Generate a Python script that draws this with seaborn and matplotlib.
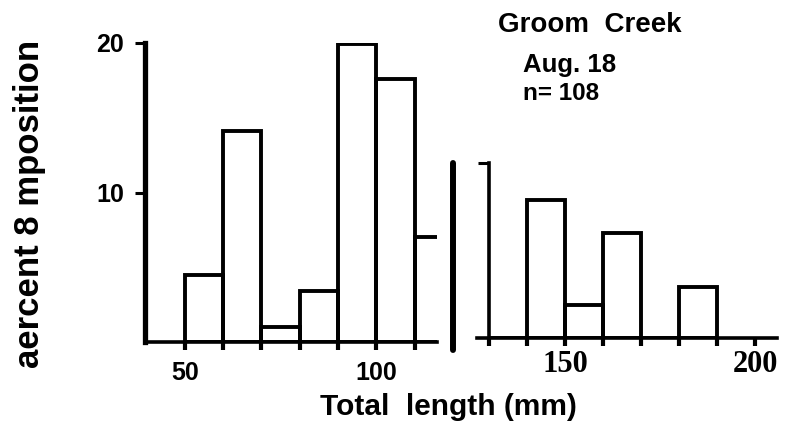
import numpy as np
import matplotlib
matplotlib.use("Agg")
import matplotlib.pyplot as plt
import seaborn as sns
from matplotlib.lines import Line2D

# --- data (percent of sample per 10 mm bin) ---
left_edges = [50, 60, 70, 80, 90, 100, 110, 120]
left_pct = [4.5, 14.1, 1.0, 3.4, 19.9, 17.6, 7.0]
right_edges = [130, 140, 150, 160, 170, 180, 190]
right_pct = [0.0, 9.2, 2.2, 7.0, 0.0, 3.4]

left_ticks = [50, 60, 70, 80, 90, 100, 110]
left_ticklabels = ["50", "", "", "", "", "100", ""]
right_ticks = [130, 140, 150, 160, 170, 180, 190, 200]
right_ticklabels = ["", "", "150", "", "", "", "", "200"]
y_ticks = [10, 20]

title_lines = ["Groom  Creek", "Aug. 18", "n= 108"]
x_label = "Total  length (mm)"
y_label = "aercent 8 mposition"

sns.set_style("ticks", {'axes.edgecolor': 'black', 'xtick.color': 'black',
                        'ytick.color': 'black', 'text.color': 'black',
                        'axes.labelcolor': 'black'})
plt.rcParams['font.family'] = ['Liberation Sans', 'DejaVu Sans']

W, H = 788, 424
fig = plt.figure(figsize=(W / 100, H / 100), dpi=100)


def box(x0, y0, x1, y1):
    return [x0 / W, 1 - y1 / H, (x1 - x0) / W, (y1 - y0) / H]


ax1 = fig.add_axes(box(145, 43, 437, 342))
ax2 = fig.add_axes(box(477, 163, 777, 338))

bar_lw = 2.8


def draw_hist(ax, edges, pct):
    centers = [(a + b) / 2 for a, b in zip(edges[:-1], edges[1:])]
    sns.histplot(x=centers, weights=pct, bins=edges, ax=ax, fill=False,
                 color="black", linewidth=bar_lw, element="bars")
    ax.set_xlabel("")
    ax.set_ylabel("")


draw_hist(ax1, left_edges, left_pct)
draw_hist(ax2, right_edges, right_pct)

# left panel
ax1.set_xlim(39.6, 115.8)
ax1.set_ylim(0, 20)
sns.despine(ax=ax1)
ax1.spines['left'].set_linewidth(3.8)
ax1.spines['bottom'].set_linewidth(2.6)
ax1.set_xticks(left_ticks)
ax1.set_xticklabels(left_ticklabels)
ax1.set_yticks(y_ticks)
ax1.set_yticklabels([str(v) for v in y_ticks])
ax1.tick_params(axis='x', direction='out', length=6, width=3, pad=8,
                labelsize=18)
ax1.tick_params(axis='y', direction='out', length=7, width=2.2, pad=8,
                labelsize=18)
for lab in ax1.get_xticklabels() + ax1.get_yticklabels():
    lab.set_fontweight('bold')

# right panel
ax2.set_xlim(126.9, 205.7)
ax2.set_ylim(0, 11.7)
sns.despine(ax=ax2)
ax2.spines['left'].set_position(('data', 130))
ax2.spines['left'].set_linewidth(2.6)
ax2.spines['bottom'].set_linewidth(2.6)
ax2.set_xticks(right_ticks)
ax2.set_xticklabels(right_ticklabels)
ax2.set_yticks([11.7])
ax2.set_yticklabels([""])
ax2.tick_params(axis='x', direction='out', length=6, width=3, pad=3,
                labelsize=22)
ax2.tick_params(axis='y', direction='out', length=8, width=2.2)
for lab in ax2.get_xticklabels():
    lab.set_fontfamily(['Liberation Serif', 'DejaVu Serif'])
    lab.set_fontweight('bold')

for ax in (ax1, ax2):
    ax.set_facecolor('none')

# axis break mark
fig.add_artist(Line2D([453 / W, 453 / W], [1 - 163 / H, 1 - 350 / H],
                      transform=fig.transFigure, color='black', lw=4.3))

# labels and annotation
fig.text(498 / W, 1 - 32 / H, title_lines[0], fontsize=20, fontweight='bold',
         ha='left', va='baseline')
fig.text(523 / W, 1 - 72 / H, title_lines[1], fontsize=18.5, fontweight='bold',
         ha='left', va='baseline')
fig.text(523 / W, 1 - 100 / H, title_lines[2], fontsize=17.5, fontweight='bold',
         ha='left', va='baseline')
fig.text(320 / W, 1 - 415 / H, x_label, fontsize=21.5, fontweight='bold',
         ha='left', va='baseline')
fig.text(30 / W, 1 - 204 / H, y_label, fontsize=25, fontweight='bold',
         rotation=90, ha='center', va='center')

fig.savefig("out.png", dpi=100, facecolor='white')
